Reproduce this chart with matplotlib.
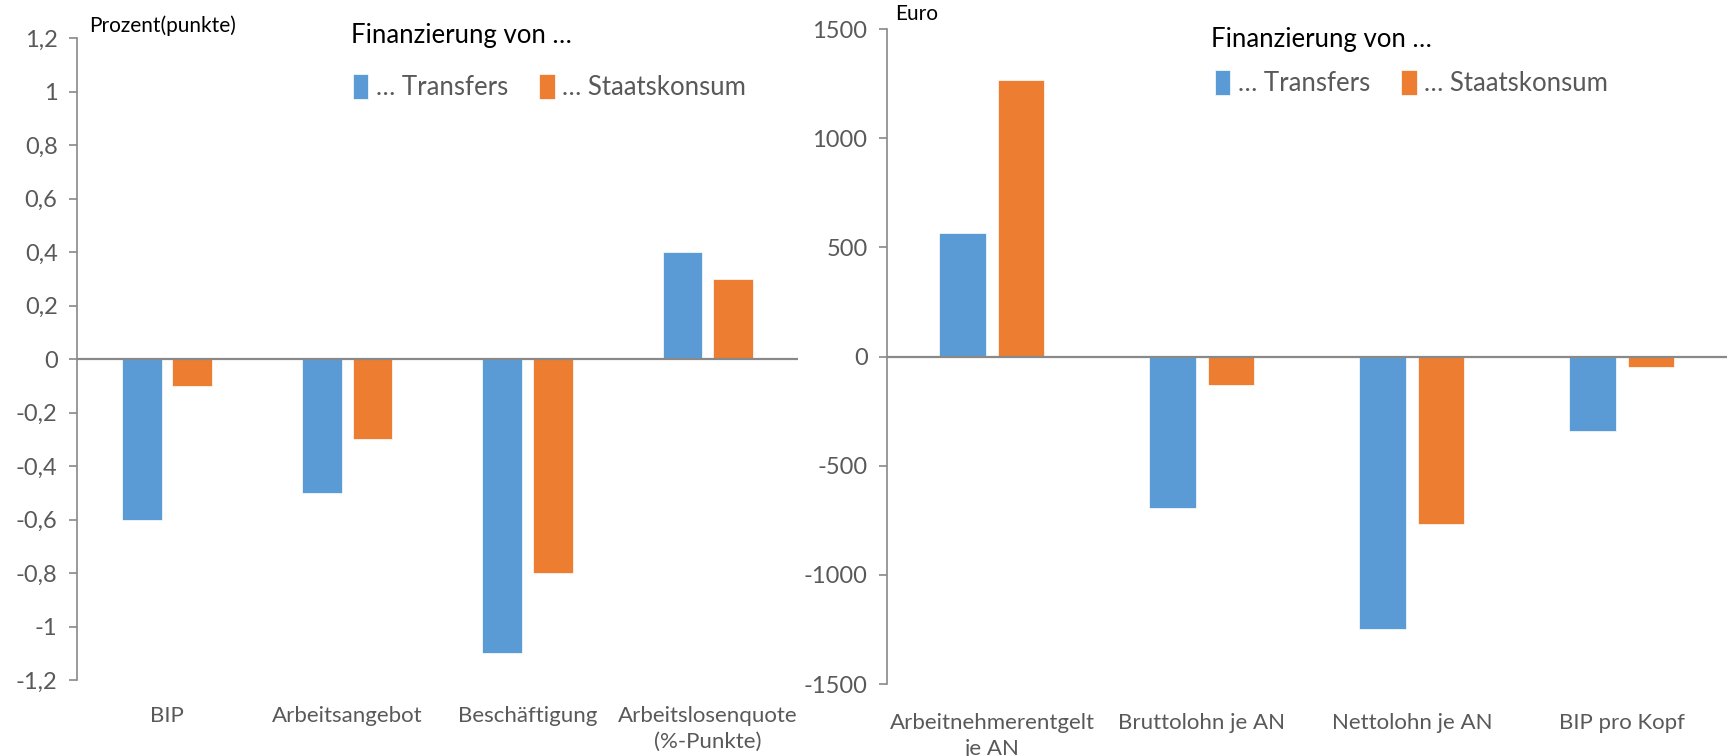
import numpy as np
import matplotlib.pyplot as plt
from matplotlib.ticker import FuncFormatter

plt.rcParams['font.family'] = ['Lato', 'DejaVu Sans']

# Daten links (Prozent/Prozentpunkte)
kat_links = ['BIP', 'Arbeitsangebot', 'Beschäftigung', 'Arbeitslosenquote\n(%-Punkte)']
transfers_links = [-0.6, -0.5, -1.1, 0.4]
konsum_links = [-0.1, -0.3, -0.8, 0.3]

# Daten rechts (Euro)
kat_rechts = ['Arbeitnehmerentgelt\nje AN', 'Bruttolohn je AN', 'Nettolohn je AN', 'BIP pro Kopf']
transfers_rechts = [565, -695, -1250, -340]
konsum_rechts = [1265, -130, -765, -50]

blau = '#5B9BD5'
orange = '#ED7D31'
grau = '#595959'
achse = '#898989'


def fmt(v, pos):
    s = ('%.1f' % v).rstrip('0').rstrip('.')
    if s in ('-0', ''):
        s = '0'
    return s.replace('.', ',')


def zeichne(ax, kat, t, k, ylim, ticks, formatter, pad):
    x = np.arange(len(kat))
    w = 0.22
    off = 0.14
    ax.bar(x - off, t, w, color=blau, edgecolor='white', linewidth=0.5, label='… Transfers')
    ax.bar(x + off, k, w, color=orange, edgecolor='white', linewidth=0.5, label='… Staatskonsum')
    ax.set_xlim(-0.5, len(kat) - 0.5)
    ax.set_ylim(*ylim)
    ax.set_yticks(ticks)
    ax.yaxis.set_major_formatter(formatter)
    ax.axhline(0, color=achse, linewidth=1.6, zorder=3)
    for s in ['top', 'right', 'bottom']:
        ax.spines[s].set_visible(False)
    ax.spines['left'].set_color(achse)
    ax.spines['left'].set_linewidth(1.2)
    ax.tick_params(axis='y', colors=achse, labelcolor=grau, labelsize=17, length=6, width=1.2, pad=8)
    ax.set_xticks(x)
    ax.set_xticklabels(kat, color=grau, fontsize=16, linespacing=1.35)
    ax.tick_params(axis='x', length=0, pad=pad)


fig = plt.figure(figsize=(17.33, 7.56), dpi=100)

ax1 = fig.add_axes([0.0444, 0.1005, 0.416, 0.849])
zeichne(ax1, kat_links, transfers_links, konsum_links, (-1.2, 1.2),
        np.arange(-1.2, 1.21, 0.2), FuncFormatter(fmt), 19)

ax2 = fig.add_axes([0.5118, 0.0952, 0.4847, 0.8664])
zeichne(ax2, kat_rechts, transfers_rechts, konsum_rechts, (-1500, 1500),
        np.arange(-1500, 1501, 500), FuncFormatter(lambda v, p: '%d' % v), 21)

fig.text(89 / 1733, 1 - 26 / 756, 'Prozent(punkte)', fontsize=15, va='center', ha='left', color='black')
fig.text(895 / 1733, 1 - 14 / 756, 'Euro', fontsize=15, va='center', ha='left', color='black')

for ax, tx, ty, lx, ly in [(ax1, 351, 35, 353, 87), (ax2, 1211, 40, 1215, 83)]:
    fig.text(tx / 1733, 1 - ty / 756, 'Finanzierung von …', fontsize=18.5, va='center', ha='left', color='black')
    fig.legend(handles=ax.containers, labels=['… Transfers', '… Staatskonsum'],
               loc='center left', bbox_to_anchor=(lx / 1733, 1 - ly / 756),
               ncol=2, frameon=False, fontsize=18.5, labelcolor=grau,
               handlelength=0.6, handleheight=1.1, handletextpad=0.3, columnspacing=1.2,
               borderpad=0, borderaxespad=0)

fig.savefig('out.png', dpi=100)
